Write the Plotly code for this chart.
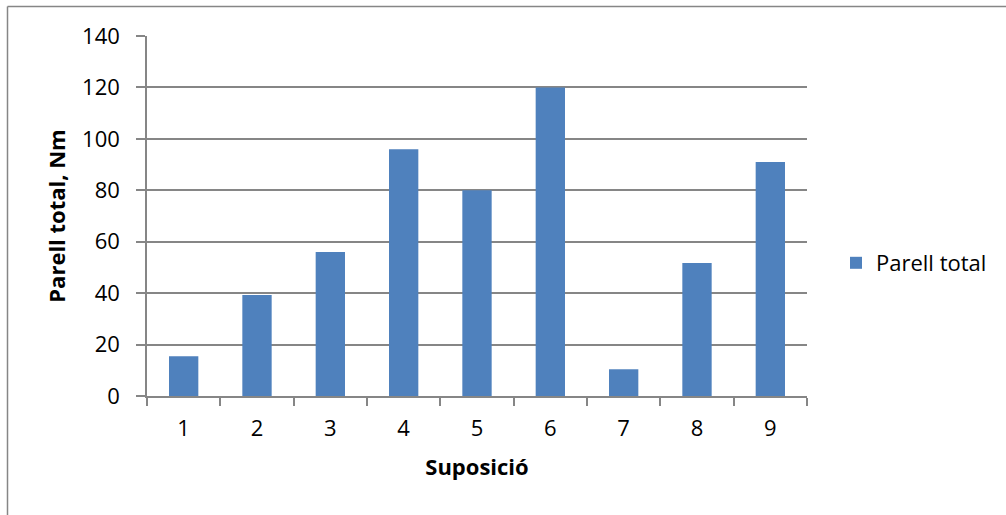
import plotly.graph_objects as go

# Torque per case
suposicions = ["1", "2", "3", "4", "5", "6", "7", "8", "9"]
parell_total = [15.5, 39.3, 56, 96, 80, 120, 10.4, 51.7, 91]
y_ticks = [0, 20, 40, 60, 80, 100, 120, 140]

W, H = 1006, 515
L, R, T, B = 147, 199, 36, 119
plot_w = W - L - R
plot_h = H - T - B

axis_grey = "#868686"
font_family = "'Open Sans', Lato, sans-serif"
fs = 22

fig = go.Figure()
fig.add_trace(go.Bar(
    x=suposicions,
    y=parell_total,
    name="Parell total",
    marker=dict(color="#4F81BD", line=dict(width=0)),
))

# frame of the chart area (top and left edges)
def px_x(px):
    return (px - L) / plot_w

def px_y(py):
    return (H - B - py) / plot_h

fig.add_shape(type="line", xref="paper", yref="paper",
              x0=px_x(7.5), x1=px_x(W + 5), y0=px_y(6.5), y1=px_y(6.5),
              line=dict(color=axis_grey, width=1.5))
fig.add_shape(type="line", xref="paper", yref="paper",
              x0=px_x(7.5), x1=px_x(7.5), y0=px_y(6.5), y1=px_y(H + 5),
              line=dict(color=axis_grey, width=1.5))

fig.update_layout(
    width=W, height=H,
    margin=dict(l=L, r=R, t=T, b=B, pad=0),
    paper_bgcolor="white",
    plot_bgcolor="white",
    bargap=0.6,
    font=dict(family=font_family, size=fs, color="#000000"),
    showlegend=True,
    legend=dict(
        x=px_x(836), xanchor="left",
        y=px_y(263), yanchor="middle",
        font=dict(family=font_family, size=fs, color="#000000"),
        bgcolor="rgba(0,0,0,0)",
    ),
    xaxis=dict(
        type="category",
        tickson="boundaries",
        ticks="outside",
        ticklen=8,
        tickwidth=1.5,
        tickcolor=axis_grey,
        showline=True,
        linecolor=axis_grey,
        linewidth=1.5,
        showgrid=False,
        tickfont=dict(size=fs),
        ticklabelstandoff=12,
        title=dict(text="<b>Suposició</b>", font=dict(size=fs), standoff=18),
    ),
    yaxis=dict(
        range=[0, 140],
        tickvals=y_ticks,
        ticks="outside",
        ticklen=9,
        tickwidth=1.5,
        tickcolor=axis_grey,
        showline=True,
        linecolor=axis_grey,
        linewidth=1.5,
        showgrid=True,
        gridcolor=axis_grey,
        gridwidth=1.5,
        zeroline=False,
        tickfont=dict(size=fs),
        ticklabelstandoff=12,
        title=dict(text="<b>Parell total, Nm</b>", font=dict(size=fs), standoff=10),
    ),
)

fig.write_html("out.html")
